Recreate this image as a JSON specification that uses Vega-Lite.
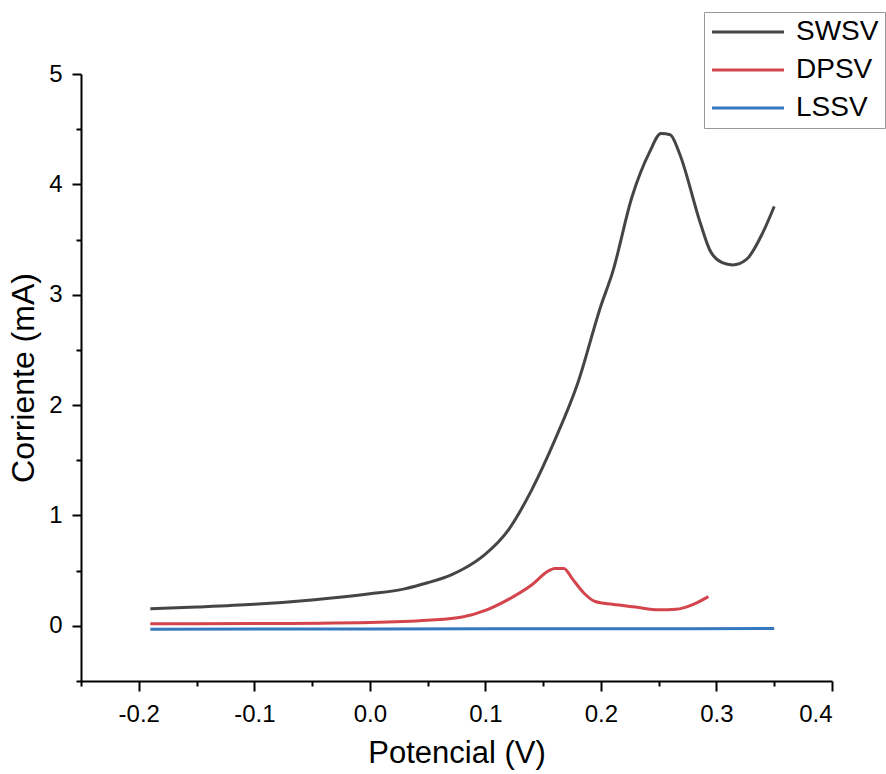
{
  "$schema": "https://vega.github.io/schema/vega-lite/v6.json",
  "autosize": "none",
  "width": 751,
  "height": 607,
  "padding": {"left": 81, "top": 74, "right": 54, "bottom": 93},
  "background": "white",
  "config": {
    "font": "Liberation Sans",
    "view": {"stroke": null},
    "axis": {"grid": false, "domainColor": "black", "tickColor": "black", "domainWidth": 2, "tickWidth": 2, "labelColor": "black", "titleColor": "black", "labelFont": "Liberation Sans", "titleFont": "Liberation Sans", "titleFontWeight": "normal"}
  },
  "data": {"values": [
    {"V": -0.19, "I": 0.154, "s": "SWSV"},
    {"V": -0.15, "I": 0.17, "s": "SWSV"},
    {"V": -0.1, "I": 0.195, "s": "SWSV"},
    {"V": -0.05, "I": 0.235, "s": "SWSV"},
    {"V": 0.0, "I": 0.29, "s": "SWSV"},
    {"V": 0.03, "I": 0.335, "s": "SWSV"},
    {"V": 0.05, "I": 0.39, "s": "SWSV"},
    {"V": 0.07, "I": 0.46, "s": "SWSV"},
    {"V": 0.08, "I": 0.51, "s": "SWSV"},
    {"V": 0.1, "I": 0.65, "s": "SWSV"},
    {"V": 0.12, "I": 0.87, "s": "SWSV"},
    {"V": 0.14, "I": 1.23, "s": "SWSV"},
    {"V": 0.16, "I": 1.68, "s": "SWSV"},
    {"V": 0.18, "I": 2.2, "s": "SWSV"},
    {"V": 0.2, "I": 2.9, "s": "SWSV"},
    {"V": 0.21, "I": 3.2, "s": "SWSV"},
    {"V": 0.227, "I": 3.89, "s": "SWSV"},
    {"V": 0.242, "I": 4.29, "s": "SWSV"},
    {"V": 0.252, "I": 4.46, "s": "SWSV"},
    {"V": 0.26, "I": 4.45, "s": "SWSV"},
    {"V": 0.268, "I": 4.28, "s": "SWSV"},
    {"V": 0.286, "I": 3.65, "s": "SWSV"},
    {"V": 0.294, "I": 3.41, "s": "SWSV"},
    {"V": 0.305, "I": 3.29, "s": "SWSV"},
    {"V": 0.314, "I": 3.27, "s": "SWSV"},
    {"V": 0.326, "I": 3.32, "s": "SWSV"},
    {"V": 0.34, "I": 3.56, "s": "SWSV"},
    {"V": 0.35, "I": 3.8, "s": "SWSV"},
    {"V": -0.19, "I": 0.018, "s": "DPSV"},
    {"V": -0.1, "I": 0.02, "s": "DPSV"},
    {"V": 0.0, "I": 0.03, "s": "DPSV"},
    {"V": 0.05, "I": 0.05, "s": "DPSV"},
    {"V": 0.08, "I": 0.08, "s": "DPSV"},
    {"V": 0.1, "I": 0.14, "s": "DPSV"},
    {"V": 0.12, "I": 0.24, "s": "DPSV"},
    {"V": 0.14, "I": 0.37, "s": "DPSV"},
    {"V": 0.155, "I": 0.5, "s": "DPSV"},
    {"V": 0.16, "I": 0.52, "s": "DPSV"},
    {"V": 0.168, "I": 0.52, "s": "DPSV"},
    {"V": 0.175, "I": 0.43, "s": "DPSV"},
    {"V": 0.185, "I": 0.3, "s": "DPSV"},
    {"V": 0.195, "I": 0.22, "s": "DPSV"},
    {"V": 0.21, "I": 0.195, "s": "DPSV"},
    {"V": 0.23, "I": 0.17, "s": "DPSV"},
    {"V": 0.25, "I": 0.145, "s": "DPSV"},
    {"V": 0.265, "I": 0.15, "s": "DPSV"},
    {"V": 0.28, "I": 0.195, "s": "DPSV"},
    {"V": 0.293, "I": 0.265, "s": "DPSV"},
    {"V": -0.19, "I": -0.03, "s": "LSSV"},
    {"V": 0.0, "I": -0.028, "s": "LSSV"},
    {"V": 0.2, "I": -0.026, "s": "LSSV"},
    {"V": 0.35, "I": -0.025, "s": "LSSV"}
  ]},
  "layer": [
    {
      "mark": {"type": "line", "strokeWidth": 3, "clip": true, "interpolate": "monotone"},
      "encoding": {
        "x": {"field": "V", "type": "quantitative", "scale": {"domain": [-0.25, 0.4], "nice": false, "zero": false},
          "axis": {"orient": "bottom", "values": [-0.2, -0.1, 0.0, 0.1, 0.2, 0.3, 0.4], "labelExpr": "datum.value < 0 ? '-' + format(-datum.value, '.1f') : format(datum.value, '.1f')", "tickSize": 10, "labelFontSize": 24, "labelPadding": 11, "title": "Potencial (V)", "titleFontSize": 31, "titlePadding": 12}},
        "y": {"field": "I", "type": "quantitative", "scale": {"domain": [-0.5, 5], "nice": false, "zero": false},
          "axis": {"orient": "left", "values": [0, 1, 2, 3, 4, 5], "format": "d", "tickSize": 9, "labelFontSize": 24, "labelPadding": 10, "title": "Corriente (mA)", "titleFontSize": 32, "titlePadding": 8}},
        "color": {"field": "s", "type": "nominal", "scale": {"domain": ["SWSV", "DPSV", "LSSV"], "range": ["#454545", "#d3444c", "#3578bd"]},
          "legend": {"title": null, "orient": "none", "legendX": 623, "legendY": -62, "symbolType": "M-1,0H5", "symbolSize": 576, "symbolStrokeWidth": 3, "labelFontSize": 28, "labelColor": "black", "strokeColor": "#999999", "padding": 6, "rowPadding": 10, "labelOffset": 58, "fillColor": "white"}},
        "detail": {"field": "s"}
      }
    },
    {
      "mark": {"type": "line", "strokeOpacity": 0},
      "encoding": {
        "x": {"field": "V", "type": "quantitative", "scale": {"domain": [-0.25, 0.4], "nice": false, "zero": false},
          "axis": {"orient": "bottom", "values": [-0.25, -0.15, -0.05, 0.05, 0.15, 0.25, 0.35], "tickSize": 5, "labels": false, "domain": false, "title": null}},
        "y": {"field": "I", "type": "quantitative", "scale": {"domain": [-0.5, 5], "nice": false, "zero": false},
          "axis": {"orient": "left", "values": [-0.5, 0.5, 1.5, 2.5, 3.5, 4.5], "tickSize": 5, "labels": false, "domain": false, "title": null}},
        "detail": {"field": "s"}
      }
    }
  ],
  "resolve": {"axis": {"x": "independent", "y": "independent"}}
}
